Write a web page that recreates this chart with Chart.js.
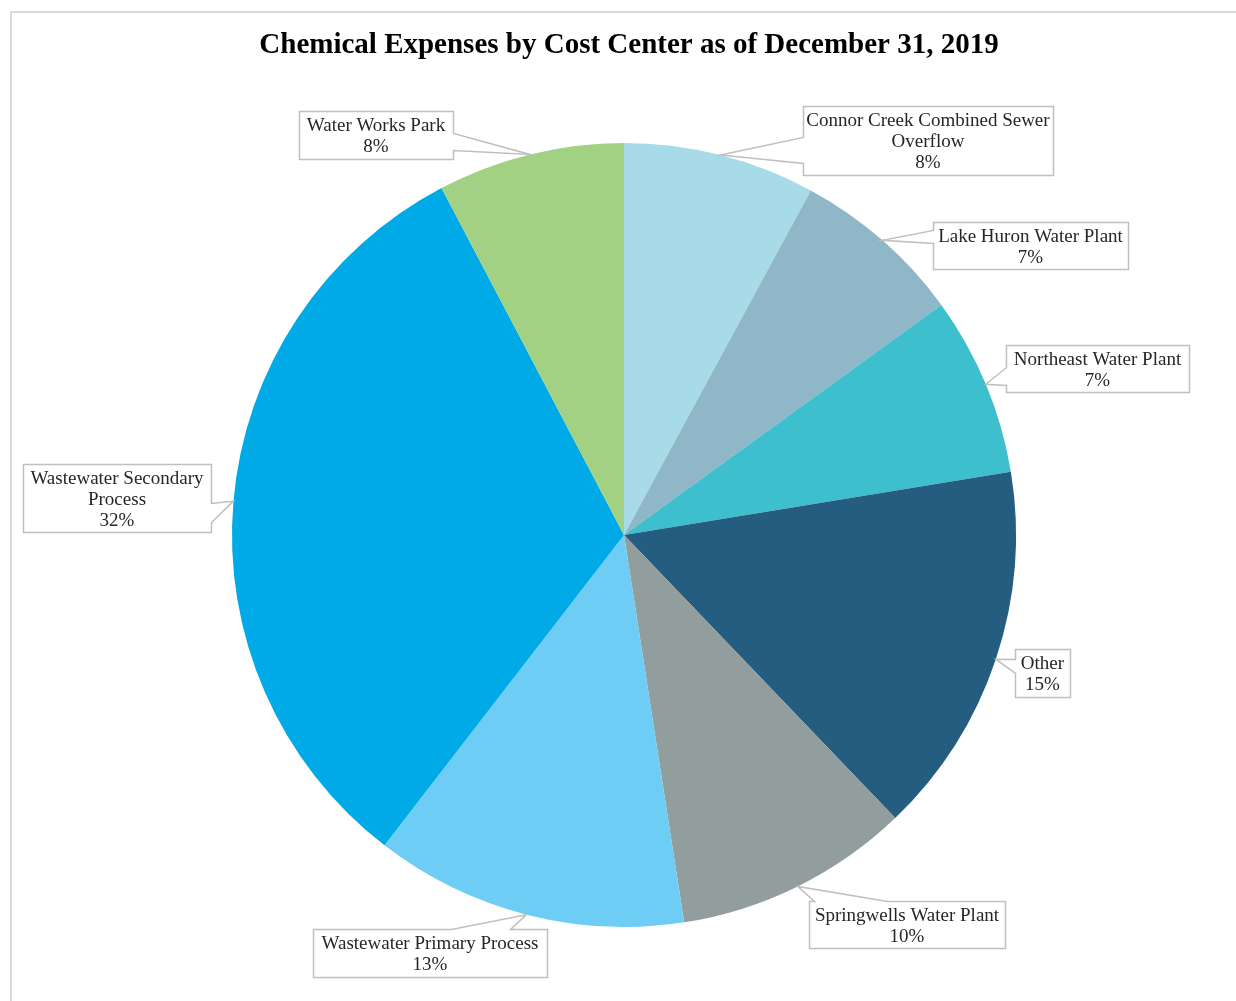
<!DOCTYPE html>
<html>
<head>
<meta charset="utf-8">
<script src="https://cdn.jsdelivr.net/npm/chart.js@4.4.1/dist/chart.umd.min.js"></script>
<style>
  html, body { margin: 0; padding: 0; background: #fff; }
  #wrap { width: 1236px; height: 1001px; position: relative; }
</style>
</head>
<body>
<div id="wrap"><canvas id="pie"></canvas></div>
<script>
// cost centers, clockwise from 12 o'clock
const categories = [
  ['Connor Creek Combined Sewer', 'Overflow'],
  ['Lake Huron Water Plant'],
  ['Northeast Water Plant'],
  ['Other'],
  ['Springwells Water Plant'],
  ['Wastewater Primary Process'],
  ['Wastewater Secondary', 'Process'],
  ['Water Works Park']
];
const shares = [7.9, 7.1, 7.4, 15.4, 9.7, 12.9, 31.8, 7.7];   // percent of chemical spend
const sliceColors = ['#a6dbe7', '#8fb7c8', '#3dbfcd', '#245d80', '#929e9d', '#6dcdf5', '#00aae6', '#a3d184'];

// callout boxes: x, y, w, h, which side the pointer leaves from, pointer base span along that side
const boxes = [
  { x: 803,  y: 106, w: 250, h: 69, side: 'left',  b0: 31, b1: 57 },
  { x: 933,  y: 222, w: 195, h: 47, side: 'left',  b0: 8,  b1: 21 },
  { x: 1006, y: 345, w: 183, h: 47, side: 'left',  b0: 22, b1: 40 },
  { x: 1015, y: 649, w: 55,  h: 48, side: 'left',  b0: 10, b1: 24 },
  { x: 809,  y: 901, w: 196, h: 47, side: 'top',   b0: 5,  b1: 78 },
  { x: 313,  y: 929, w: 234, h: 48, side: 'top',   b0: 138, b1: 197 },
  { x: 23,   y: 464, w: 188, h: 68, side: 'right', b0: 39, b1: 58 },
  { x: 299,  y: 111, w: 154, h: 48, side: 'right', b0: 22, b1: 39 }
];

const total = shares.reduce((a, b) => a + b, 0);

const frame = {
  id: 'frame',
  beforeDraw(chart) {
    const ctx = chart.ctx;
    ctx.save();
    ctx.fillStyle = '#fff';
    ctx.fillRect(0, 0, chart.width, chart.height);
    ctx.strokeStyle = '#d9d9d9';
    ctx.lineWidth = 2;
    ctx.strokeRect(11, 12, chart.width + 20, chart.height + 20);
    ctx.fillStyle = '#000';
    ctx.font = 'bold 29px "Liberation Serif", serif';
    ctx.textAlign = 'center';
    ctx.textBaseline = 'middle';
    ctx.fillText('Chemical Expenses by Cost Center as of December 31, 2019', 629, 46);
    ctx.restore();
  }
};

const callouts = {
  id: 'callouts',
  afterDatasetsDraw(chart) {
    const ctx = chart.ctx;
    const arcs = chart.getDatasetMeta(0).data;
    ctx.save();
    arcs.forEach((arc, i) => {
      const p = arc.getProps(['x', 'y', 'startAngle', 'endAngle', 'outerRadius'], true);
      const mid = (p.startAngle + p.endAngle) / 2;
      const ax = p.x + Math.cos(mid) * p.outerRadius;
      const ay = p.y + Math.sin(mid) * p.outerRadius;
      const b = boxes[i];
      const x = b.x + 0.5, y = b.y + 0.5, w = b.w, h = b.h;

      ctx.beginPath();
      if (b.side === 'left') {
        ctx.moveTo(x, y); ctx.lineTo(x + w, y); ctx.lineTo(x + w, y + h); ctx.lineTo(x, y + h);
        ctx.lineTo(x, y + b.b1); ctx.lineTo(ax, ay); ctx.lineTo(x, y + b.b0);
      } else if (b.side === 'right') {
        ctx.moveTo(x, y); ctx.lineTo(x + w, y); ctx.lineTo(x + w, y + b.b0); ctx.lineTo(ax, ay);
        ctx.lineTo(x + w, y + b.b1); ctx.lineTo(x + w, y + h); ctx.lineTo(x, y + h);
      } else {
        ctx.moveTo(x, y); ctx.lineTo(x + b.b0, y); ctx.lineTo(ax, ay); ctx.lineTo(x + b.b1, y);
        ctx.lineTo(x + w, y); ctx.lineTo(x + w, y + h); ctx.lineTo(x, y + h);
      }
      ctx.closePath();
      ctx.fillStyle = '#fff';
      ctx.fill();
      ctx.strokeStyle = '#bfbfbf';
      ctx.lineWidth = 1.5;
      ctx.lineJoin = 'miter';
      ctx.stroke();

      const lines = categories[i].concat([Math.round(shares[i] / total * 100) + '%']);
      ctx.fillStyle = '#262626';
      ctx.font = '19px "Liberation Serif", serif';
      ctx.textAlign = 'center';
      ctx.textBaseline = 'middle';
      const lh = 21;
      const cy = b.y + b.h / 2 + 2 - (lines.length - 1) * lh / 2;
      lines.forEach((t, k) => ctx.fillText(t, b.x + b.w / 2, cy + k * lh));
    });
    ctx.restore();
  }
};

new Chart(document.getElementById('pie'), {
  type: 'pie',
  data: {
    labels: categories,
    datasets: [{ data: shares, backgroundColor: sliceColors, borderWidth: 0 }]
  },
  options: {
    responsive: true,
    maintainAspectRatio: false,
    animation: false,
    layout: { padding: { top: 143, bottom: 74, left: 232, right: 220 } },
    plugins: { legend: { display: false }, tooltip: { enabled: false }, title: { display: false } }
  },
  plugins: [frame, callouts]
});
</script>
</body>
</html>
